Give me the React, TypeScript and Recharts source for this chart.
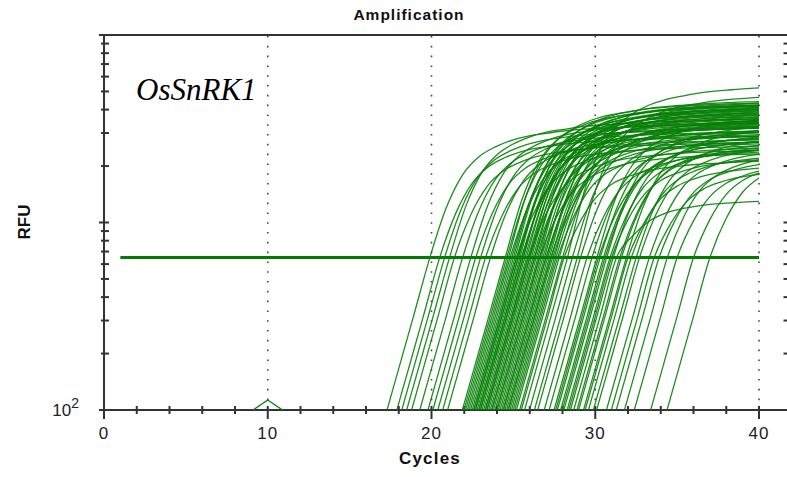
import { LineChart, Line, XAxis, YAxis, ReferenceLine } from 'recharts';

// Ct where each well crosses the threshold
const ctValues = [
  19.9, 20.5, 20.8, 21.1, 21.4, 21.9, 22.4, 22.7, 23.0, 23.3, 23.6,
  24.5, 24.6, 24.7, 24.9, 25.0, 25.1, 25.2, 25.3, 25.3, 25.4, 25.5, 25.6, 25.6, 25.7, 25.8, 25.9,
  26.0, 26.0, 26.1, 26.2, 26.3, 26.4, 26.5, 26.6, 26.7, 26.8, 26.9, 27.0, 27.1, 27.2, 27.3, 27.4,
  27.5, 27.6, 27.8,
  28.3, 28.6, 28.9, 29.1, 29.5,
  30.1, 30.3, 30.5, 30.7, 30.9, 31.1, 31.3, 31.6, 31.9, 32.2, 32.5, 32.7,
  33.3, 33.9, 34.4, 35.0, 37.0,
  24.8, 25.2, 25.5, 25.9, 26.3, 26.6, 27.0, 27.3, 27.7, 28.0, 28.1,
  29.8, 30.2, 30.6, 31.0, 31.5, 32.0, 33.6, 36.0,
];

// plateau RFU of each well (same order as ctValues)
const plateauRfu = [
  3400, 2900, 3200, 3600, 2700, 3100, 3500, 2800, 3300, 2600, 3000,
  4300, 3900, 4500, 3700, 4100, 4400, 3500, 4200, 3800, 4600, 3300, 4000, 4400, 3600, 4200, 3900,
  4500, 3400, 4100, 3700, 4300, 3200, 4000, 4400, 3800, 3500, 4200, 3000, 3900, 4300, 3600, 2800,
  4100, 3400, 3700,
  5600, 3600, 5000, 3200, 2500,
  3800, 3300, 2900, 3500, 2600, 3100, 1350, 2800, 3400, 2400, 3000, 2700,
  2600, 2300, 2500, 2200, 2400,
  3100, 2700, 3300, 2500, 3000, 2400, 3200, 2900, 2600, 3500, 2200,
  3000, 2600, 2900, 2300, 2700, 2100, 2000, 2300,
];

// shape of the earliest well, cycles relative to its Ct and its RFU
const shapeOffsets = [-5, -4, -3, -2, -1, 0, 1, 2, 3, 4, 5, 6, 7, 8, 10, 12, 15, 18, 21];
const shapeRfu = [20, 37, 76, 155, 316, 650, 1300, 2060, 2650, 3040, 3330, 3530, 3660, 3780, 3920, 4010, 4100, 4200, 4250];

const thresholdRfu = 650;
const thresholdCycles = [1, 40];

// small blip of the no-template well near cycle 10
const blipCycles = [8, 9, 10, 11, 12];
const blipRfu = [98, 98.6, 113, 98.6, 98];

const xTicks = [0, 2, 4, 6, 8, 10, 12, 14, 16, 18, 20, 22, 24, 26, 28, 30, 32, 34, 36, 38, 40];
const yTicks = [
  100, 200, 300, 400, 500, 600, 700, 800, 900,
  1000, 2000, 3000, 4000, 5000, 6000, 7000, 8000, 9000, 10000,
];
const gridCycles = [10, 20, 30, 40];

const GREEN = '#088008';
const AXIS = '#333';
const FONT = 'Arial, "Liberation Sans", sans-serif';

const thrLog = Math.log10(thresholdRfu);
const shapeTopLog = Math.log10(shapeRfu[shapeRfu.length - 1]);

const wells = ctValues.map((ct, i) => {
  const k = (Math.log10(plateauRfu[i]) - thrLog) / (shapeTopLog - thrLog);
  return shapeOffsets.map((dx, j) => {
    const lg = Math.log10(shapeRfu[j]);
    const rfu = dx > 0 ? Math.pow(10, thrLog + (lg - thrLog) * k) : shapeRfu[j];
    return { cycle: ct + dx, rfu };
  });
});

const thresholdData = thresholdCycles.map((c) => ({ cycle: c, rfu: thresholdRfu }));
const blipData = blipCycles.map((c, i) => ({ cycle: c, rfu: blipRfu[i] }));

const isDecade = (v: number) => [100, 1000, 10000].includes(v);

const BottomTick = (props: any) => {
  const { x, y, payload } = props;
  const major = payload.value % 10 === 0;
  return (
    <g>
      <line x1={x} y1={y - 4} x2={x} y2={y + (major ? 9 : 4)} stroke={AXIS} strokeWidth={2} />
      {major && (
        <text x={x} y={y + 29} textAnchor="middle" fontSize={17} letterSpacing={1} fill="#222" fontFamily={FONT}>
          {payload.value}
        </text>
      )}
    </g>
  );
};

const TopTick = (props: any) => {
  const { x, y } = props;
  return <line x1={x} y1={y} x2={x} y2={y + 5} stroke={AXIS} strokeWidth={2} />;
};

const LeftTick = (props: any) => {
  const { x, y, payload } = props;
  const major = isDecade(payload.value);
  return (
    <g>
      <line x1={x - (major ? 5 : 3)} y1={y} x2={x + 5} y2={y} stroke={AXIS} strokeWidth={2} />
      {payload.value === 100 && (
        <text x={x - 25} y={y + 6} textAnchor="end" fontSize={17} fill="#222" fontFamily={FONT}>
          10
          <tspan dy={-8} fontSize={14}>2</tspan>
        </text>
      )}
    </g>
  );
};

const RightTick = (props: any) => {
  const { x, y } = props;
  return <line x1={x - 5} y1={y} x2={x} y2={y} stroke={AXIS} strokeWidth={2} />;
};

const axisLine = { stroke: AXIS, strokeWidth: 2 };

export default function App() {
  return (
    <div
      style={{
        position: 'absolute',
        left: 0,
        top: 0,
        width: 787,
        height: 477,
        overflow: 'hidden',
        background: '#fff',
        fontFamily: FONT,
      }}
    >
      {/* frame, axes, grid and threshold */}
      <div style={{ position: 'absolute', left: 0, top: 0 }}>
        <LineChart width={800} height={477} margin={{ top: 30, right: 6.5, bottom: 17, left: 44 }}>
          <XAxis
            dataKey="cycle"
            type="number"
            domain={[0, 41.8]}
            ticks={xTicks}
            interval={0}
            height={50}
            tickSize={0}
            tickMargin={0}
            tickLine={false}
            axisLine={axisLine}
            tick={BottomTick}
          />
          <XAxis
            xAxisId="top"
            orientation="top"
            dataKey="cycle"
            type="number"
            domain={[0, 41.8]}
            ticks={xTicks}
            interval={0}
            height={5}
            tickSize={0}
            tickMargin={0}
            tickLine={false}
            axisLine={axisLine}
            tick={TopTick}
          />
          <YAxis
            scale="log"
            type="number"
            domain={[100, 10000]}
            ticks={yTicks}
            interval={0}
            width={60}
            tickSize={0}
            tickMargin={0}
            tickLine={false}
            axisLine={axisLine}
            tick={LeftTick}
            allowDataOverflow
          />
          <YAxis
            yAxisId="right"
            orientation="right"
            scale="log"
            type="number"
            domain={[100, 10000]}
            ticks={yTicks}
            interval={0}
            width={5}
            tickSize={0}
            tickMargin={0}
            tickLine={false}
            axisLine={axisLine}
            tick={RightTick}
            allowDataOverflow
          />
          {gridCycles.map((c) => (
            <ReferenceLine key={c} x={c} stroke="#444" strokeWidth={1.6} strokeDasharray="1.6 8.2" />
          ))}
          <Line
            data={thresholdData}
            dataKey="rfu"
            stroke="#007d00"
            strokeWidth={3}
            dot={false}
            activeDot={false}
            isAnimationActive={false}
          />
        </LineChart>
      </div>

      {/* amplification curves, clipped at cycle 40 */}
      <div style={{ position: 'absolute', left: 0, top: 0 }}>
        <LineChart width={787} height={477} margin={{ top: 35, right: 28, bottom: 67, left: 104 }}>
          <XAxis dataKey="cycle" type="number" domain={[0, 40]} allowDataOverflow hide />
          <YAxis scale="log" type="number" domain={[100, 10000]} allowDataOverflow hide />
          {wells.map((d, i) => (
            <Line
              key={i}
              data={d}
              dataKey="rfu"
              type="monotone"
              stroke={GREEN}
              strokeOpacity={0.9}
              strokeWidth={1.3}
              dot={false}
              activeDot={false}
              isAnimationActive={false}
            />
          ))}
          <Line
            data={blipData}
            dataKey="rfu"
            stroke={GREEN}
            strokeWidth={1.3}
            dot={false}
            activeDot={false}
            isAnimationActive={false}
          />
        </LineChart>
      </div>

      <div
        style={{
          position: 'absolute',
          left: 300,
          width: 218,
          top: 6,
          textAlign: 'center',
          fontSize: 15.5,
          fontWeight: 'bold',
          letterSpacing: 1,
          color: '#111',
        }}
      >
        Amplification
      </div>
      <div
        style={{
          position: 'absolute',
          left: 340,
          width: 180,
          top: 449,
          textAlign: 'center',
          fontSize: 17,
          fontWeight: 'bold',
          letterSpacing: 1.2,
          color: '#111',
        }}
      >
        Cycles
      </div>
      <div
        style={{
          position: 'absolute',
          left: 25,
          top: 222,
          transform: 'translate(-50%, -50%) rotate(-90deg)',
          fontSize: 17,
          fontWeight: 'bold',
          color: '#111',
          whiteSpace: 'nowrap',
        }}
      >
        RFU
      </div>
      <div
        style={{
          position: 'absolute',
          left: 136,
          top: 72,
          fontFamily: '"Liberation Serif", "Times New Roman", serif',
          fontStyle: 'italic',
          fontSize: 31,
          color: '#000',
          whiteSpace: 'nowrap',
        }}
      >
        OsSnRK1
      </div>
    </div>
  );
}
